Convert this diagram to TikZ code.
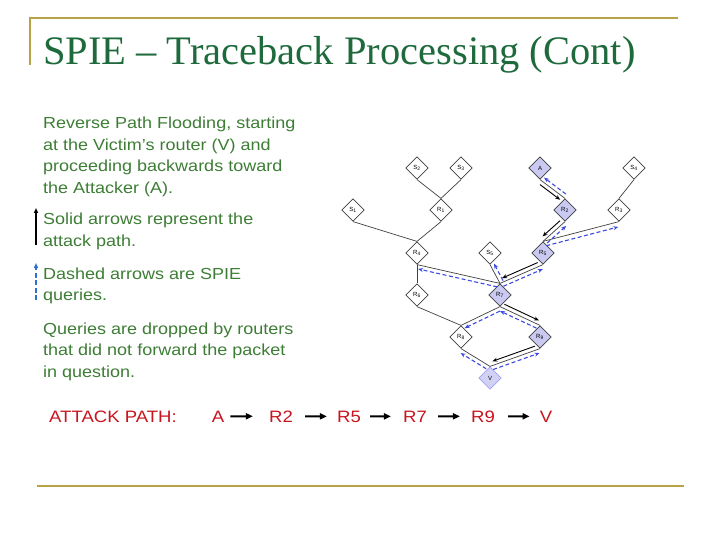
\documentclass[tikz,border=0pt]{standalone}
\usepackage{fontspec}
\setmainfont{Liberation Sans}
\newfontfamily\titlefont{Liberation Serif}
\newfontfamily\bodyfont[FakeStretch=1.125]{Liberation Sans}
\usetikzlibrary{shapes.geometric,calc,arrows.meta}
\definecolor{gold}{HTML}{B8A446}
\definecolor{ttlgreen}{HTML}{1E6A3C}
\definecolor{txtgreen}{HTML}{3D7D35}
\definecolor{atkred}{HTML}{C8141E}
\definecolor{lav}{HTML}{C9C9F2}
\definecolor{qblue}{HTML}{3A4AE0}
\definecolor{bblue}{HTML}{2E6FD0}
\newcommand\sidearrow[5]{%
  \draw[#1] ($(#2)!#5!(#3)!#4!-90:(#3)$) -- ($(#3)!#5!(#2)!#4!90:(#2)$);}
\begin{document}
\begin{tikzpicture}[x=1pt,y=-1pt,
  rt/.style={diamond,draw=black!75,line width=0.7pt,fill=white,minimum width=22.5pt,minimum height=22.5pt,inner sep=0pt,font=\fontsize{6}{6}\selectfont},
  hot/.style={rt,fill=lav},
  vic/.style={rt,fill=lav!85,draw=lav!80!blue},
  link/.style={draw=black!75,line width=0.7pt},
  atk/.style={-{Stealth[length=5pt,width=4pt]},line width=0.9pt,black},
  qry/.style={-{Stealth[length=5pt,width=4pt]},line width=1.1pt,qblue,dash pattern=on 4pt off 2.5pt},
  body/.style={anchor=base west,inner sep=0pt,text=txtgreen,font=\bodyfont\fontsize{16}{19}\selectfont},
  pth/.style={anchor=base,inner sep=0pt,text=atkred,font=\bodyfont\fontsize{16.5}{19}\selectfont},
  patharrow/.style={-{Triangle[length=7pt,width=6pt]},line width=2pt,black}
]
\useasboundingbox (0,0) rectangle (720,540);
% frame lines
\draw[gold,line width=2pt] (30,65) -- (30,18) -- (678,18);
\draw[gold,line width=2.5pt] (37,486) -- (684,486);
% title
\node[anchor=base west,inner sep=0pt,text=ttlgreen,font=\titlefont\fontsize{40.5}{40}\selectfont] (title) at (43,65) {SPIE – Traceback Processing (Cont)};
% body text
\node[body] (t1) at (43,129) {Reverse Path Flooding, starting};
\node[body] (t2) at (43,150.5) {at the Victim’s router (V) and};
\node[body] (t3) at (43,172) {proceeding backwards toward};
\node[body] (t4) at (43,193.5) {the Attacker (A).};
\node[body] (t5) at (43,225) {Solid arrows represent the};
\node[body] (t6) at (43,246.5) {attack path.};
\node[body] (t7) at (43,279) {Dashed arrows are SPIE};
\node[body] (t8) at (43,300.5) {queries.};
\node[body] (t9) at (43,334) {Queries are dropped by routers};
\node[body] (t10) at (43,355.5) {that did not forward the packet};
\node[body] (t11) at (43,377) {in question.};
% legend arrows
\coordinate (b1s) at (36,245);
\coordinate (b1e) at (36,208);
\draw[-{Triangle[length=5pt,width=4pt]},line width=1.5pt,black] (b1s) -- (b1e);
\coordinate (b2s) at (36,300);
\coordinate (b2e) at (36,263);
\draw[-{Triangle[length=5pt,width=4pt]},line width=1.5pt,bblue,dash pattern=on 5pt off 2.5pt] (b2s) -- (b2e);
% graph nodes
\node[rt]  (S2) at (417,168) {S\textsubscript{2}};
\node[rt]  (S3) at (461,168) {S\textsubscript{3}};
\node[hot] (A)  at (540,168) {A};
\node[rt]  (S4) at (634,168) {S\textsubscript{4}};
\node[rt]  (S1) at (353,210) {S\textsubscript{1}};
\node[rt]  (R1) at (441,210) {R\textsubscript{1}};
\node[hot] (R2) at (565,210) {R\textsubscript{2}};
\node[rt]  (R3) at (619,210) {R\textsubscript{3}};
\node[rt]  (R4) at (417,253) {R\textsubscript{4}};
\node[rt]  (S5) at (490,253) {S\textsubscript{5}};
\node[hot] (R5) at (543,253) {R\textsubscript{5}};
\node[rt]  (R6) at (417,295) {R\textsubscript{6}};
\node[hot] (R7) at (500,295) {R\textsubscript{7}};
\node[rt]  (R8) at (461,337) {R\textsubscript{8}};
\node[hot] (R9) at (540,337) {R\textsubscript{9}};
\node[vic] (V)  at (490,378) {V};
% links
\foreach \u/\v in {S2/R1,S3/R1,S1/R4,R1/R4,A/R2,S4/R3,R2/R5,R3/R5,R4/R6,R4/R7,S5/R7,R5/R7,R6/R8,R7/R8,R7/R9,R8/V,R9/V}
  \draw[link] (\u.south) -- (\v.north);
% attack path arrows
\sidearrow{atk}{A.south}{R2.north}{4pt}{3pt}
\sidearrow{atk}{R2.south}{R5.north}{4pt}{3pt}
\sidearrow{atk}{R5.south}{R7.north}{4pt}{4pt}
\sidearrow{atk}{R7.south}{R9.north}{-4pt}{3pt}
\sidearrow{atk}{R9.south}{V.north}{4pt}{4pt}
% query arrows
\sidearrow{qry}{R2.north}{A.south}{4pt}{2pt}
\sidearrow{qry}{R5.north}{R2.south}{4pt}{2pt}
\sidearrow{qry}{R5.north}{R3.south}{5pt}{2pt}
\sidearrow{qry}{R7.north}{R5.south}{4pt}{2pt}
\sidearrow{qry}{R7.north}{R4.south}{-4pt}{2pt}
\sidearrow{qry}{R7.north}{S5.south}{4pt}{1pt}
\sidearrow{qry}{R9.north}{R7.south}{-4pt}{2pt}
\sidearrow{qry}{R7.south}{R8.north}{-4pt}{2pt}
\sidearrow{qry}{V.north}{R9.south}{4pt}{2pt}
\sidearrow{qry}{V.north}{R8.south}{-4pt}{2pt}
% attack path line
\node[pth,anchor=base west] (ap) at (49,422) {ATTACK PATH:};
\node[pth] (pA)  at (218,422) {A};
\node[pth] (pR2) at (281,422) {R2};
\node[pth] (pR5) at (349,422) {R5};
\node[pth] (pR7) at (415,422) {R7};
\node[pth] (pR9) at (483,422) {R9};
\node[pth] (pV)  at (546,422) {V};
\draw[patharrow,shorten <=6pt,shorten >=16pt] (pA.east) -- (pR2.west);
\draw[patharrow,shorten <=12pt,shorten >=10pt] (pR2.east) -- (pR5.west);
\draw[patharrow,shorten <=9pt,shorten >=12pt] (pR5.east) -- (pR7.west);
\draw[patharrow,shorten <=11pt,shorten >=11pt] (pR7.east) -- (pR9.west);
\draw[patharrow,shorten <=13pt,shorten >=10pt] (pR9.east) -- (pV.west);
\end{tikzpicture}
\end{document}
